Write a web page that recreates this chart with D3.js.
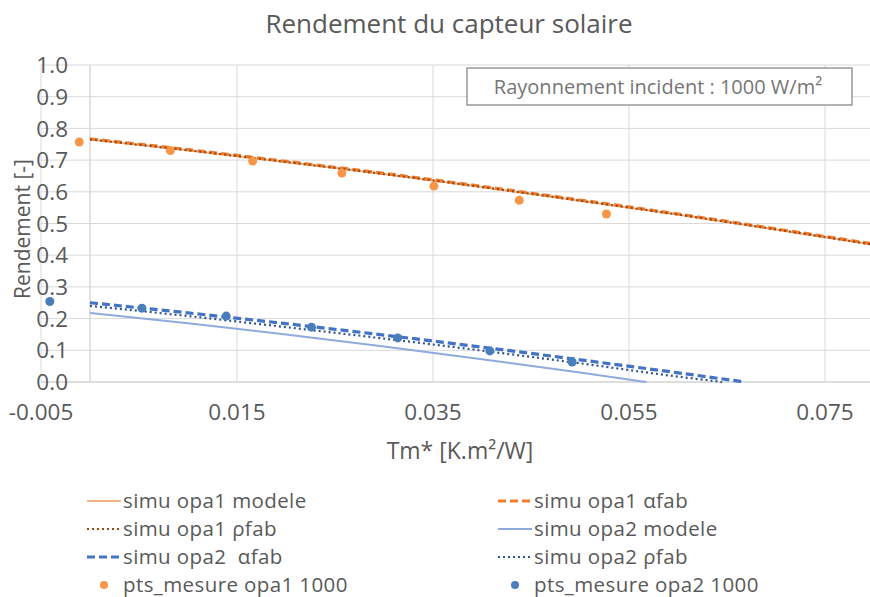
<!DOCTYPE html>
<html><head><meta charset="utf-8">
<script src="https://cdn.jsdelivr.net/npm/d3@7"></script>
<style>body{margin:0;background:#fff}svg{display:block}text{font-family:"Open Sans",Lato,sans-serif;fill:#595959}.lg{white-space:pre}</style>
</head><body><svg id="c" width="870" height="597"></svg>
<script>
// Measured efficiency vs Tm* [K.m²/W]
const mesureOpa1X = [-0.0011, 0.0082, 0.0166, 0.0257, 0.0351, 0.0438, 0.0527];
const mesureOpa1Y = [0.757, 0.730, 0.697, 0.659, 0.618, 0.573, 0.530];
const mesureOpa2X = [-0.0041, 0.0053, 0.0139, 0.0226, 0.0314, 0.0408, 0.0492];
const mesureOpa2Y = [0.254, 0.233, 0.208, 0.173, 0.139, 0.098, 0.063];

// Simulated efficiency curves
const simuX = [0, 0.01, 0.02, 0.03, 0.04, 0.05, 0.06, 0.07, 0.08];
const simuOpa1Modele = [0.765, 0.731, 0.694, 0.656, 0.615, 0.572, 0.528, 0.481, 0.433];
const simuOpa1Alpha  = [0.767, 0.733, 0.696, 0.658, 0.617, 0.574, 0.530, 0.483, 0.435];
const simuOpa1Rho    = [0.765, 0.731, 0.694, 0.656, 0.615, 0.572, 0.528, 0.481, 0.433];
const simuOpa2ModeleX = [0, 0.01, 0.02, 0.03, 0.04, 0.05, 0.0568];
const simuOpa2Modele  = [0.218, 0.185, 0.150, 0.112, 0.072, 0.030, 0];
const simuOpa2AlphaX  = [0, 0.01, 0.02, 0.03, 0.04, 0.05, 0.06, 0.0668];
const simuOpa2Alpha   = [0.250, 0.218, 0.184, 0.148, 0.110, 0.070, 0.029, 0];
const simuOpa2RhoX    = [0, 0.01, 0.02, 0.03, 0.04, 0.05, 0.06, 0.0645];
const simuOpa2Rho     = [0.240, 0.208, 0.173, 0.137, 0.099, 0.059, 0.017, 0];

const xTicks = [-0.005, 0.015, 0.035, 0.055, 0.075];
const yTicks = [0, 0.1, 0.2, 0.3, 0.4, 0.5, 0.6, 0.7, 0.8, 0.9, 1.0];

const svg = d3.select("#c");
const x = d3.scaleLinear().domain([-0.005, 0.08]).range([41, 874]);
const y = d3.scaleLinear().domain([0, 1]).range([382, 65]);
const xr = 870;

// grid
svg.append("g").selectAll("line").data(yTicks).join("line")
  .attr("x1", 41).attr("x2", xr).attr("y1", d => y(d)).attr("y2", d => y(d))
  .attr("stroke", "#d9d9d9").attr("stroke-width", 1);
svg.append("g").selectAll("line").data(xTicks).join("line")
  .attr("x1", d => x(d)).attr("x2", d => x(d)).attr("y1", y(1)).attr("y2", y(0))
  .attr("stroke", "#d9d9d9").attr("stroke-width", 1);
// axis lines crossing at zero
svg.append("line").attr("x1", x(0)).attr("x2", x(0)).attr("y1", y(1)).attr("y2", y(0))
  .attr("stroke", "#d9d9d9").attr("stroke-width", 1.5);
svg.append("line").attr("x1", 41).attr("x2", xr).attr("y1", y(0)).attr("y2", y(0))
  .attr("stroke", "#d9d9d9").attr("stroke-width", 1.5);

// tick labels
svg.append("g").selectAll("text").data(yTicks).join("text")
  .attr("x", 68).attr("y", d => y(d)).attr("dy", "0.36em").attr("text-anchor", "end")
  .attr("font-size", 22.5).text(d => d.toFixed(1));
svg.append("g").selectAll("text").data(xTicks).join("text")
  .attr("x", d => x(d)).attr("y", 412).attr("dy", "0.36em").attr("text-anchor", "middle")
  .attr("font-size", 22.5).text(d => d.toFixed(3));

// titles
svg.append("text").attr("x", 449).attr("y", 24).attr("dy", "0.36em").attr("text-anchor", "middle")
  .attr("font-size", 26).text("Rendement du capteur solaire");
svg.append("text").attr("x", 460).attr("y", 451).attr("dy", "0.36em").attr("text-anchor", "middle")
  .attr("font-size", 23).text("Tm* [K.m²/W]");
svg.append("text").attr("transform", "translate(22,229) rotate(-90)").attr("dy", "0.36em")
  .attr("text-anchor", "middle").attr("font-size", 21).text("Rendement [-]");

// series
const line = d3.line().x(d => x(d[0])).y(d => y(d[1])).curve(d3.curveMonotoneX);
const zip = (xs, ys) => xs.map((v, i) => [v, ys[i]]);
const series = [
  {name: "simu opa1 modele", data: zip(simuX, simuOpa1Modele), color: "#f4b183", w: 2, dash: null},
  {name: "simu opa1 αfab", data: zip(simuX, simuOpa1Alpha), color: "#ed7d31", w: 3.2, dash: "8,4"},
  {name: "simu opa1 ρfab", data: zip(simuX, simuOpa1Rho), color: "#9e480e", w: 2.2, dash: "2,3"},
  {name: "simu opa2 modele", data: zip(simuOpa2ModeleX, simuOpa2Modele), color: "#8faadc", w: 2, dash: null},
  {name: "simu opa2  αfab", data: zip(simuOpa2AlphaX, simuOpa2Alpha), color: "#4472c4", w: 3.2, dash: "8,4"},
  {name: "simu opa2 ρfab", data: zip(simuOpa2RhoX, simuOpa2Rho), color: "#2f5597", w: 2.2, dash: "2,3"}
];
svg.append("clipPath").attr("id", "pa").append("rect")
  .attr("x", 41).attr("y", 60).attr("width", xr - 41).attr("height", y(0) - 60 + 1);
const gl = svg.append("g").attr("clip-path", "url(#pa)");
series.forEach(s => {
  gl.append("path").attr("d", line(s.data)).attr("fill", "none")
    .attr("stroke", s.color).attr("stroke-width", s.w).attr("stroke-dasharray", s.dash);
});
svg.append("g").selectAll("circle").data(zip(mesureOpa1X, mesureOpa1Y)).join("circle")
  .attr("cx", d => x(d[0])).attr("cy", d => y(d[1])).attr("r", 4.5).attr("fill", "#f79646");
svg.append("g").selectAll("circle").data(zip(mesureOpa2X, mesureOpa2Y)).join("circle")
  .attr("cx", d => x(d[0])).attr("cy", d => y(d[1])).attr("r", 4.5).attr("fill", "#4a7ebb");

// annotation box
svg.append("rect").attr("x", 467).attr("y", 68).attr("width", 385).attr("height", 37)
  .attr("fill", "#fff").attr("stroke", "#7f7f7f").attr("stroke-width", 1.2);
svg.append("text").attr("x", 658).attr("y", 87).attr("dy", "0.36em").attr("text-anchor", "middle")
  .attr("font-size", 20).style("fill", "#767676")
  .text("Rayonnement incident : 1000 W/m²");

// legend
const legend = [
  {s: series[0], col: 0, row: 0}, {s: series[1], col: 1, row: 0},
  {s: series[2], col: 0, row: 1}, {s: series[3], col: 1, row: 1},
  {s: series[4], col: 0, row: 2}, {s: series[5], col: 1, row: 2},
  {s: {name: "pts_mesure opa1 1000", color: "#f79646", pt: true}, col: 0, row: 3},
  {s: {name: "pts_mesure opa2 1000", color: "#4a7ebb", pt: true}, col: 1, row: 3}
];
const colX = [87, 498];
const rowY = [501, 529, 557, 585];
legend.forEach(l => {
  const g = svg.append("g").attr("transform", `translate(${colX[l.col]},${rowY[l.row]})`);
  if (l.s.pt) {
    g.append("circle").attr("cx", 17).attr("cy", 0).attr("r", 4).attr("fill", l.s.color);
  } else {
    g.append("line").attr("x1", 0).attr("x2", 34).attr("y1", 0).attr("y2", 0)
      .attr("stroke", l.s.color).attr("stroke-width", l.s.w).attr("stroke-dasharray", l.s.dash);
  }
  g.append("text").attr("class", "lg").attr("x", 36).attr("y", 0).attr("dy", "0.36em")
    .attr("font-size", 20.5).attr("letter-spacing", 0.4).text(l.s.name);
});
</script></body></html>
